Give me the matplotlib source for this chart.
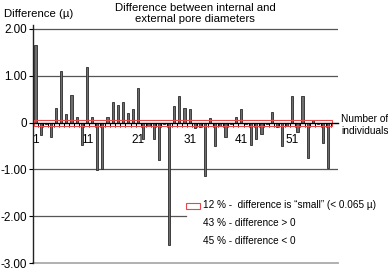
import numpy as np
import matplotlib.pyplot as plt
from matplotlib.patches import Rectangle

plt.rcParams['font.family'] = ['Liberation Sans', 'DejaVu Sans']

# Difference between internal and external pore diameters (µ), per individual
diff = [1.66, -0.26, -0.03, -0.30, 0.31, 1.11, 0.18, 0.59, 0.13, -0.47,
        1.19, 0.13, -1.02, -1.00, 0.12, 0.44, 0.38, 0.43, 0.21, 0.30,
        0.73, -0.34, -0.08, -0.34, -0.79, -0.03, -2.62, 0.35, 0.56, 0.32,
        0.28, -0.12, -0.10, -1.14, 0.09, -0.49, -0.08, -0.30, -0.02, 0.13,
        0.29, -0.03, -0.47, -0.35, -0.24, -0.03, 0.23, -0.10, -0.49, -0.08,
        0.57, -0.20, 0.57, -0.75, 0.05, -0.03, -0.43, -0.97]
small_limit = 0.065
ytick_vals = [-3, -2, -1, 0, 1, 2]
ytick_labels = ['-3.00', '-2.00', '-1.00', '0', '1.00', '2.00']
xtick_vals = [1, 11, 21, 31, 41, 51]
legend_lines = ['12 % -  difference is \u201csmall\u201d (< 0.065 \u00b5)',
                '43 % - difference > 0',
                '45 % - difference < 0']

n = len(diff)
x = np.arange(1, n + 1)

W, H = 388, 270
fig = plt.figure(figsize=(W / 100, H / 100), dpi=100)
ax = fig.add_axes([33 / W, 7 / H, 305 / W, 238 / H])

x0, x1 = 0.65, 59.9
ax.set_xlim(x0, x1)
ax.set_ylim(-3, 2.085)

# grid-like horizontal lines
for v in [2, 1, -1]:
    ax.axhline(v, color='#555555', lw=0.9, zorder=1)
ax.axhline(-2, xmax=0.5, color='#555555', lw=0.9, zorder=1)
ax.axhline(-3, color='#aaaaaa', lw=1.3, zorder=1, clip_on=False)

# red "small difference" band
ax.add_patch(Rectangle((x0, -small_limit), n + 0.7 - x0, 2 * small_limit,
                       facecolor='none', edgecolor='#e8474c', lw=0.8, zorder=4))

ax.bar(x, diff, width=0.42, color='#6e6e6e', edgecolor='#2a2a2a',
       linewidth=0.6, zorder=3)

# axes styling
for s in ['top', 'right']:
    ax.spines[s].set_visible(False)
ax.spines['bottom'].set_position(('data', 0))
ax.spines['bottom'].set_linewidth(1.0)
ax.spines['bottom'].set_zorder(5)
ax.spines['left'].set_color('#222222')
ax.spines['left'].set_linewidth(1.0)

ax.set_yticks(ytick_vals)
ax.set_yticklabels(ytick_labels)
ax.tick_params(axis='y', length=3, width=0.8, pad=1.5, labelsize=8.4)

ax.set_xticks(xtick_vals)
ax.set_xticklabels([str(v) for v in xtick_vals])
ax.set_xticks(np.arange(0.5, n + 1), minor=True)
ax.tick_params(axis='x', which='major', length=0, pad=8, labelsize=8.5)
ax.tick_params(axis='x', which='minor', length=3, width=0.7, direction='out')

# texts
fig.text(4 / W, 1 - 14 / H, 'Difference (\u00b5)', fontsize=8.2, va='center', ha='left')
fig.text(195 / W, 1 - 13.5 / H, 'Difference between internal and\nexternal pore diameters',
         fontsize=8.2, ha='center', va='center', linespacing=1.05)
fig.text(341 / W, 1 - 125 / H, 'Number of\nindividuals', fontsize=7.3,
         ha='left', va='center', linespacing=1.2)

# legend block
fig.patches.append(Rectangle((186 / W, 1 - 209 / H), 14 / W, 6 / H,
                             transform=fig.transFigure, facecolor='none',
                             edgecolor='#e8474c', lw=0.8))
fig.text(203 / W, 1 - 205 / H, legend_lines[0], fontsize=7.2, va='center', ha='left')
fig.text(203 / W, 1 - 223 / H, legend_lines[1], fontsize=7.2, va='center', ha='left')
fig.text(203 / W, 1 - 241 / H, legend_lines[2], fontsize=7.2, va='center', ha='left')

fig.savefig('out.png', dpi=100)
